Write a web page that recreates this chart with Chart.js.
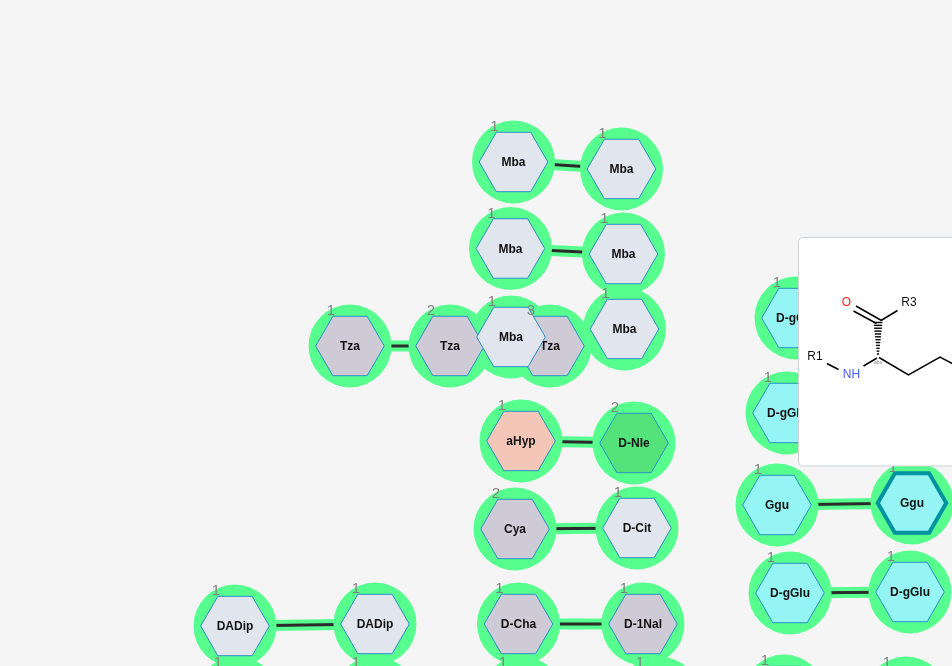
<!DOCTYPE html>
<html>
<head>
<meta charset="utf-8">
<script src="https://cdn.jsdelivr.net/npm/chart.js@4.4.1/dist/chart.umd.min.js"></script>
<style>
  html, body { margin: 0; padding: 0; background: #f5f5f5; overflow: hidden; }
  #graph { display: block; }
</style>
</head>
<body>
<canvas id="graph" width="952" height="666"></canvas>
<script>
// monomer nodes (canvas-like coordinates, y grows downwards)
const nodeNames = ['Tza','Tza','Tza','Mba','Mba','Mba','Mba','Mba','Mba',
    'aHyp','D-Nle','Cya','D-Cit','D-Cha','D-1Nal','DADip','DADip',
    'D-gGlu','D-gGlu','D-gGlu','D-gGlu','Ggu','Ggu','D-gGlu','D-gGlu',
    'DADip','DADip','D-Cha','D-1Nal','D-gGlu','D-gGlu'];
const nodeX = [350, 450, 550, 513.5, 621.5, 510.5, 623.5, 624.5, 511,
    521, 634, 515, 637, 518.5, 643, 235, 375,
    796, 912, 787, 910, 777, 912, 790, 910,
    237, 375, 522, 659, 784, 906];
const nodeY = [346, 346, 346, 162, 169, 248.5, 254, 329, 337,
    441, 443, 529, 528, 624, 624, 626, 624,
    318, 314, 413, 410, 505, 503, 593, 592,
    698, 698, 698, 698, 696, 698];
const nodeNums = [1, 2, 3, 1, 1, 1, 1, 1, 1,
    1, 2, 2, 1, 1, 1, 1, 1,
    1, 1, 1, 1, 1, 1, 1, 1,
    1, 1, 1, 1, 1, 1];

// links between monomers (node indices)
const edgeFrom = [0, 1, 3, 5, 8, 9, 11, 13, 15, 17, 19, 21, 23, 25, 27, 29];
const edgeTo   = [1, 2, 4, 6, 7, 10, 12, 14, 16, 18, 20, 22, 24, 26, 28, 30];

const selectedNode = 22;

// styling
const GREEN = '#57ff8f';
const monomerFill = {
    'Mba': '#e1e6ee', 'DADip': '#e1e6ee', 'D-Cit': '#e1e6ee',
    'Tza': '#cecbd6', 'Cya': '#cecbd6', 'D-Cha': '#cecbd6', 'D-1Nal': '#cecbd6',
    'aHyp': '#f3c6b8', 'D-Nle': '#54e37b',
    'Ggu': '#95f5f5', 'D-gGlu': '#95f5f5'
};
const FONT = 'Arial, "Liberation Sans", sans-serif';

const points = nodeX.map((x, i) => ({x: x, y: nodeY[i]}));

const datasets = [];
for(let i = 0; i < edgeFrom.length; i++){
    const seg = [points[edgeFrom[i]], points[edgeTo[i]]];
    datasets.push({ // green glow
        type: 'line', data: seg, borderColor: GREEN, borderWidth: 11,
        pointRadius: 0, order: 30, clip: false
    });
    datasets.push({ // bond
        type: 'line', data: seg, borderColor: '#2b2b2b', borderWidth: 3,
        pointRadius: 0, order: 20, clip: false
    });
}
datasets.push({
    type: 'scatter', data: points, pointRadius: 41.5, pointHoverRadius: 41.5,
    backgroundColor: GREEN, borderWidth: 0, order: 10, clip: false
});
const nodeSet = datasets.length - 1;

function hexPath(ctx, cx, cy, r){
    ctx.beginPath();
    for(let k = 0; k < 6; k++){
        const a = Math.PI / 3 * k;
        const px = cx + r * Math.cos(a), py = cy + r * Math.sin(a);
        if(k == 0) ctx.moveTo(px, py);
        else ctx.lineTo(px, py);
    }
    ctx.closePath();
}

const monomerPlugin = {
    id: 'monomers',
    afterDatasetsDraw(chart){
        const ctx = chart.ctx;
        const meta = chart.getDatasetMeta(nodeSet);
        ctx.save();
        // hexagons + names
        meta.data.forEach((pt, i) => {
            hexPath(ctx, pt.x, pt.y, 34.3);
            ctx.fillStyle = monomerFill[nodeNames[i]] || '#e1e6ee';
            ctx.fill();
            if(i == selectedNode){
                ctx.lineWidth = 4;
                ctx.strokeStyle = '#00939f';
            } else {
                ctx.lineWidth = 1;
                ctx.strokeStyle = '#2a8ec4';
            }
            ctx.stroke();
            ctx.fillStyle = '#111';
            ctx.font = 'bold 12px ' + FONT;
            ctx.textAlign = 'center';
            ctx.textBaseline = 'middle';
            ctx.fillText(nodeNames[i], pt.x, pt.y + 1);
        });
        // position numbers
        ctx.font = '15px ' + FONT;
        ctx.fillStyle = '#808080';
        meta.data.forEach((pt, i) => {
            ctx.fillText(String(nodeNums[i]), pt.x - 19, pt.y - 35);
        });
        ctx.restore();
    }
};

// structure popup in the top right
const popupPlugin = {
    id: 'popup',
    afterDraw(chart){
        const ctx = chart.ctx;
        ctx.save();
        const bx = 798.5, by = 237.5, bw = 180, bh = 228.5;
        ctx.beginPath();
        ctx.roundRect(bx, by, bw, bh, 4);
        ctx.fillStyle = '#ffffff';
        ctx.fill();
        ctx.lineWidth = 1;
        ctx.strokeStyle = '#cdd2d8';
        ctx.stroke();

        ctx.strokeStyle = '#000';
        ctx.lineWidth = 1.5;
        ctx.lineCap = 'butt';
        const seg = (x1, y1, x2, y2) => {
            ctx.beginPath(); ctx.moveTo(x1, y1); ctx.lineTo(x2, y2); ctx.stroke();
        };
        // C=O
        seg(856, 306, 881.5, 320.5);
        seg(853.5, 311, 876.5, 323.5);
        // C-R3
        seg(881, 320.5, 897.5, 310.5);
        // hashed wedge from carbonyl C down to the alpha carbon
        ctx.lineWidth = 1.4;
        for(let k = 0; k < 12; k++){
            const t = k / 11;
            const yy = 322.5 + t * 31.5;
            const hw = 4.5 - t * 3.5;
            seg(878 - hw, yy, 878 + hw, yy);
        }
        ctx.lineWidth = 1.5;
        // alpha C - NH, R1 - NH
        seg(877, 358, 863.5, 366);
        seg(827, 363.5, 838.5, 369.5);
        // side chain
        ctx.beginPath();
        ctx.moveTo(879, 357.5);
        ctx.lineTo(908.5, 375);
        ctx.lineTo(940, 357);
        ctx.lineTo(953, 364);
        ctx.stroke();

        ctx.textAlign = 'center';
        ctx.textBaseline = 'middle';
        ctx.font = '12px ' + FONT;
        ctx.fillStyle = '#ff1f1f';
        ctx.fillText('O', 846.5, 302.5);
        ctx.fillStyle = '#111';
        ctx.fillText('R3', 909, 302.5);
        ctx.fillText('R1', 815, 356.5);
        ctx.fillStyle = '#3f5bff';
        ctx.fillText('NH', 851.5, 375);
        ctx.fillStyle = '#888';
        ctx.font = '5px ' + FONT;
        ctx.fillText('abs', 878, 363);
        ctx.restore();
    }
};

new Chart(document.getElementById('graph'), {
    type: 'scatter',
    data: { datasets: datasets },
    options: {
        responsive: false,
        animation: false,
        events: [],
        layout: { padding: 0, autoPadding: false },
        scales: {
            x: { type: 'linear', min: 0, max: 952, display: false },
            y: { type: 'linear', min: 0, max: 666, reverse: true, display: false }
        },
        plugins: {
            legend: { display: false },
            tooltip: { enabled: false }
        }
    },
    plugins: [monomerPlugin, popupPlugin]
});
</script>
</body>
</html>
